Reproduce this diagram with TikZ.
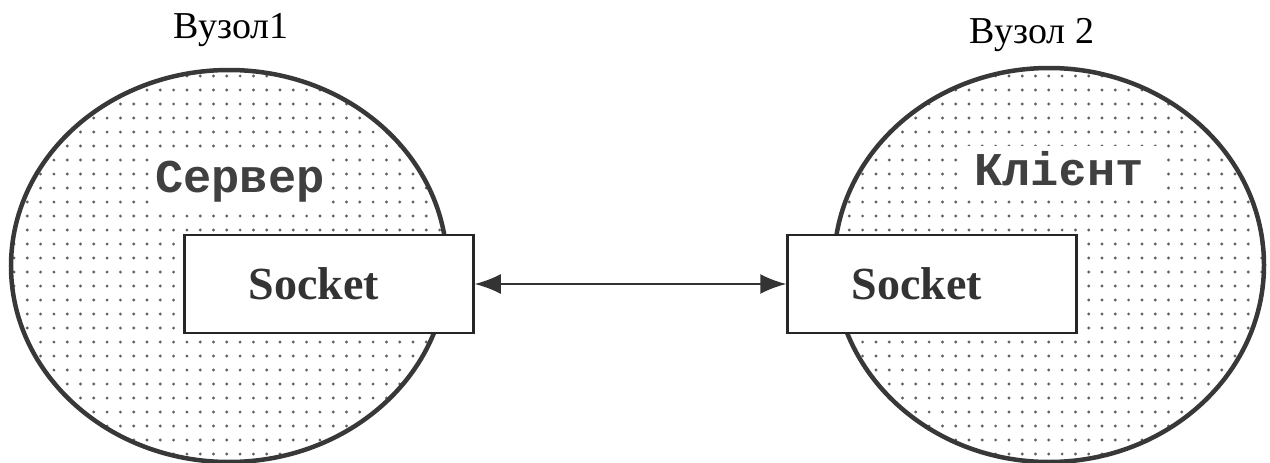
\documentclass[tikz,border=0pt]{standalone}
\usepackage{fontspec}
\setmainfont{Liberation Serif}
\newfontfamily\monofnt{Liberation Mono}
\usetikzlibrary{arrows.meta,shapes.geometric}
\begin{document}
\begin{tikzpicture}[x=1pt,y=-1pt,
  dotstyle/.style={fill=black!62},
  hostshape/.style={ellipse, draw=black!78, line width=4.5pt, inner sep=0pt},
  sockbox/.style={draw=black!85, line width=2.5pt, fill=white, inner sep=0pt,
    minimum width=289pt, minimum height=98pt,
    font=\fontsize{46}{50}\selectfont\bfseries, text=black!80},
  rolelabel/.style={fill=white, font=\monofnt\fontsize{47}{50}\selectfont\bfseries,
    text=black!75, inner sep=5pt, anchor=base},
  hostlabel/.style={font=\fontsize{38}{40}\selectfont, anchor=base},
  link/.style={draw=black!80, line width=2pt, {Latex[length=26pt,width=20pt]}-{Latex[length=26pt,width=20pt]}}
]
\useasboundingbox (0,0) rectangle (1270,463);
\coordinate (c1) at (229,266);
\coordinate (c2) at (1049,265);
% dotted fills
\begin{scope}
  \clip (c1) ellipse [x radius=218pt, y radius=196pt];
  \foreach \i in {0,...,33}{\foreach \j in {0,...,29}{
    \fill[dotstyle] (14+\i*13.3, 62+\j*14) circle[radius=1.6pt];}}
\end{scope}
\begin{scope}
  \clip (c2) ellipse [x radius=215pt, y radius=197pt];
  \foreach \i in {0,...,33}{\foreach \j in {0,...,29}{
    \fill[dotstyle] (836+\i*13.3, 62+\j*14) circle[radius=1.6pt];}}
\end{scope}
\node[hostshape, minimum width=436pt, minimum height=392pt] (host1) at (c1) {};
\node[hostshape, minimum width=430pt, minimum height=394pt] (host2) at (c2) {};
\node[hostlabel] (h1lab) at (231,38) {Вузол1};
\node[hostlabel] (h2lab) at (1032,43) {Вузол 2};
\node[rolelabel] (srv) at (240,192) {Сервер};
\node[rolelabel, inner xsep=14pt] (cli) at (1059,185) {Клієнт};
\node[sockbox] (s1) at (329,284) {Socket\hspace*{30pt}};
\node[sockbox] (s2) at (932,284) {Socket\hspace*{30pt}};
\draw[link] (s1.east) -- (s2.west);
\end{tikzpicture}
\end{document}
